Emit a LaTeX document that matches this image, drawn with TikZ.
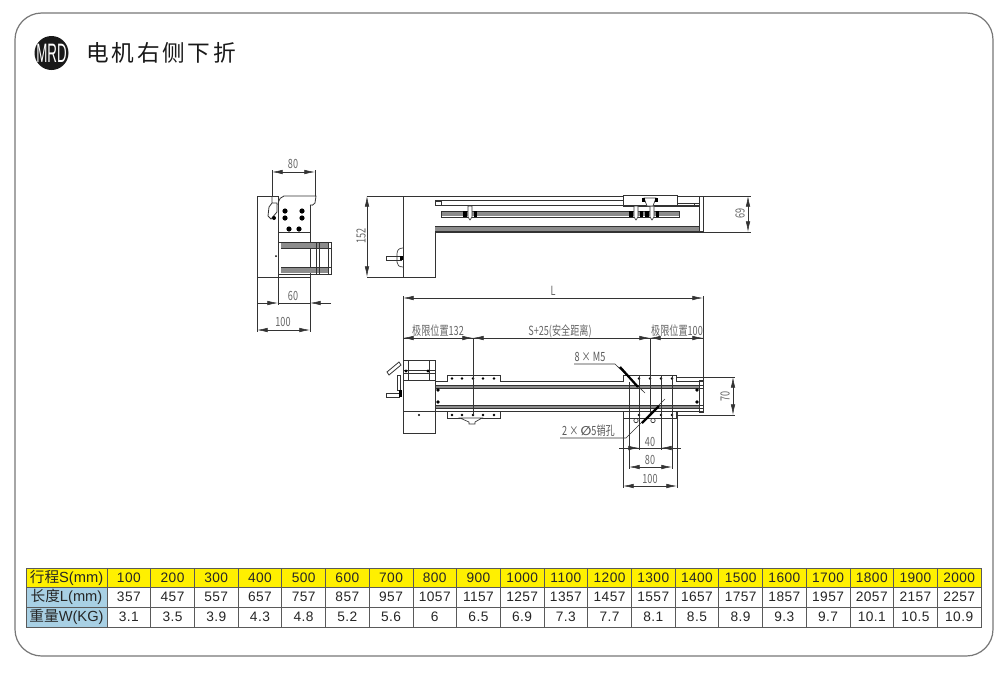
\documentclass[tikz,border=0pt]{standalone}
\usepackage{fontspec}
\setmainfont{Liberation Sans}
\newfontfamily\cjkfont{Noto Sans CJK SC}
\newfontfamily\titlefont[LetterSpace=12]{Noto Sans CJK SC}
\newfontfamily\dimfont[FakeStretch=.72]{Noto Sans CJK SC}
\newfontfamily\symfont{DejaVu Sans}
\newfontfamily\logofont[FakeStretch=.5]{Liberation Sans}
\newfontfamily\cellfont[LetterSpace=3]{Liberation Sans}
\usetikzlibrary{arrows.meta}
\definecolor{inkgray}{HTML}{333333}
\definecolor{framegray}{HTML}{777777}
\definecolor{railgray}{HTML}{8C8C8C}
\definecolor{gridgray}{HTML}{5A5A5A}
\definecolor{headyellow}{HTML}{FFF000}
\definecolor{headblue}{HTML}{A8D0E4}
\tikzset{
  part/.style={draw=inkgray, line width=.6pt},
  hair/.style={draw=inkgray, line width=.5pt},
  dimline/.style={draw=inkgray, line width=.45pt},
  dimboth/.style={dimline, {Latex[length=8pt,width=3.4pt]}-{Latex[length=8pt,width=3.4pt]}},
  dimend/.style={dimline, -{Latex[length=8pt,width=3.4pt]}},
  dimtext/.style={font=\dimfont\fontsize{9.5}{10}\selectfont, text=black!60, inner sep=0pt},
  leadtext/.style={font=\dimfont\fontsize{9.5}{10}\selectfont, text=black!65, inner sep=0pt},
  celltext/.style={font=\cellfont\fontsize{10.3}{11}\selectfont, text=black!85, inner sep=0pt},
  headtext/.style={font=\fontsize{11}{12}\selectfont, text=black!85, inner sep=0pt},
}
\begin{document}
\begin{tikzpicture}[x=.75pt, y=-.75pt]
  \useasboundingbox (0,0) rectangle (1000,672);
  \fill[white] (0,0) rectangle (1000,672);
  \draw[framegray, line width=.9pt, rounded corners=20pt] (15,13) rectangle (993,656);

  % title
  \fill[black!90] (51.5,53) circle (17);
  \node[text=white, inner sep=0pt, font=\logofont\fontsize{20}{21}\selectfont] (logo) at (51.5,53) {MRD};
  \node[anchor=west, inner sep=0pt, font=\titlefont\fontsize{17}{18}\selectfont, text=black!90] (title) at (86,53) {电机右侧下折};

  % end view
  \draw[part] (257,196) rectangle (278,277);
  \draw[part] (278,205) -- (278,277) -- (310,277) -- (310,205);
  \draw[part] (278,205) .. controls (279,198) and (281,197) .. (284,196) -- (306,196) -- (310,196) -- (316,196) -- (315,203) .. controls (314,205) and (311,206) .. (310,205);
  \draw[hair] (278,232) -- (310,232);
  \draw[part] (278,242) rectangle (331,274);
  \fill[railgray] (281,243) rectangle (329,248);
  \fill[railgray] (281,267) rectangle (329,273);
  \draw[hair] (281,248) -- (331,248) (281,267) -- (331,267);
  \foreach \x in {316,319,328}
    \draw[hair] (\x,242) -- (\x,274);
  \foreach \x/\y in {285/211,302/211,285/218,302/218,289/229,299/229}
    \fill[black] (\x,\y) circle (2.6);
  \draw[part] (272,196) -- (272,203) -- (269,207) -- (268,216) (272,203) -- (277,203) -- (277,212) -- (271,219) -- (268,216);
  \fill[black] (274,218) circle (2);
  \fill[black] (276,256) circle (1);

  \draw[dimline] (272,196) -- (272,170) (315,196) -- (315,170);
  \draw[dimboth] (272,172) -- (315,172);
  \node[dimtext] (endtop) at (293,164) {80};
  \draw[dimline] (278,277) -- (278,305) (310,277) -- (310,332) (257,277) -- (257,332);
  \draw[dimend] (258,303) -- (278,303);
  \draw[dimend] (331,303) -- (310,303);
  \draw[dimline] (278,303) -- (310,303);
  \node[dimtext] (endmid) at (293,296) {60};
  \draw[dimboth] (257,330) -- (310,330);
  \node[dimtext] (endlow) at (283,322) {100};

  % side view
  \draw[part] (403,196) rectangle (435,277);
  \draw[dimline] (367,196) -- (403,196) (367,277) -- (403,277);
  \draw[dimboth] (367,196) -- (367,277);
  \node[dimtext, rotate=90] (sideh) at (361,236) {152};
  \draw[hair] (386,256) rectangle (401,260);
  \draw[hair] (403,248) .. controls (399,248) and (397,250) .. (397,254) -- (397,262) .. controls (397,265) and (399,267) .. (403,267);
  \fill[black] (400,256) rectangle (403,260);

  \fill[white] (435,196) rectangle (703,232);
  \draw[inkgray, line width=1.3pt] (435,196.5) -- (623,196.5);
  \draw[hair] (435,200) -- (623,200) (435,205.5) -- (699,205.5);
  \fill[railgray] (441,212) rectangle (679,216);
  \draw[hair] (441,211) rectangle (679,217);
  \fill[railgray] (435,226) rectangle (699,231);
  \draw[inkgray, line width=1pt] (435,232) -- (703,232);
  \draw[hair] (435,226) -- (699,226);
  \draw[hair] (435,201) rectangle (441,205.5);
  \draw[part] (623,195) rectangle (677,206);
  \draw[part] (677,196) rectangle (699,206);
  \draw[hair] (677,203) -- (699,203) (694,203) -- (694,206);
  \draw[part] (699,196) rectangle (703,232);
  \foreach \x in {470,636,652} {
    \fill[black] (\x-7,211) rectangle (\x-3.5,217);
    \fill[black] (\x+3.5,211) rectangle (\x+7,217);
    \draw[hair, fill=white] (\x-2,206) -- (\x+2,206) -- (\x+2,217) -- (\x,220) -- (\x-2,217) -- cycle;
  }
  \draw[hair, fill=white] (644,198) -- (656,198) -- (653,206) -- (647,206) -- cycle;
  \fill[black] (642,198) rectangle (645,202);
  \fill[black] (655,198) rectangle (658,202);

  \draw[dimline] (703,196) -- (751,196) (703,232) -- (751,232);
  \draw[dimboth] (748,196) -- (748,232);
  \node[dimtext, rotate=90] (sidew) at (740,213) {69};

  % top view
  \draw[part] (403,380) rectangle (435,433);
  \draw[part] (403,360) rectangle (435,380);
  \draw[hair] (403,411) -- (435,411);
  \draw[hair] (403,370) -- (435,370) (403,373) -- (435,373) (408,360) -- (408,380) (429,360) -- (429,380);
  \fill[black] (419,415) circle (1.2);
  \fill[black] (406,371) circle (1.6);
  \fill[black] (428,371) circle (1.6);
  \draw[part] (387,372) -- (399,362) -- (401,365) -- (389,375) -- cycle;
  \draw[part] (397,375) rectangle (400,390);
  \draw[part] (386,393) rectangle (399,397);
  \fill[black] (399,390) rectangle (402,397);

  \draw[inkgray, line width=1.1pt] (435,381.5) -- (703,381.5) (435,411.5) -- (703,411.5);
  \fill[railgray] (436,385) rectangle (699,388);
  \fill[railgray] (436,405) rectangle (699,408);
  \draw[hair] (435,385) -- (703,385) (435,388) -- (703,388) (435,405) -- (703,405) (435,408) -- (703,408);
  \draw[part] (699,380) rectangle (703,412);
  \foreach \x in {438,697} {
    \fill[black] (\x,390) circle (1.8);
    \fill[black] (\x,402) circle (1.8);
  }
  \foreach \x in {447,623} {
    \draw[part, fill=white] (\x,382) -- (\x,375) -- (\x+53,375) -- (\x+53,382);
    \draw[part, fill=white] (\x,412) -- (\x,418) -- (\x+53,418) -- (\x+53,412);
  }
  \foreach \x in {452,462,473,483,494,639,650,661,672} {
    \fill[black] (\x,378.5) circle (1.3);
    \fill[black] (\x,415) circle (1.3);
  }
  \draw[hair, fill=white] (460,418) -- (482,418) -- (475,422) -- (475,424) -- (469,424) -- (469,422) -- cycle;
  \foreach \x in {636,653}
    \draw[hair] (\x,420.5) circle (2.2);

  % overall dimensions
  \draw[dimline] (403,296) -- (403,380) (703,296) -- (703,380);
  \draw[dimboth] (403,298) -- (703,298);
  \node[dimtext] (lenlabel) at (553,291) {L};
  \draw[dimline] (473,338) -- (473,415) (650,338) -- (650,415);
  \draw[dimline] (403,338) -- (703,338);
  \draw[dimend] (414,338) -- (403,338);
  \draw[dimend] (463,338) -- (473,338);
  \draw[dimend] (484,338) -- (473,338);
  \draw[dimend] (639,338) -- (650,338);
  \draw[dimend] (661,338) -- (650,338);
  \draw[dimend] (692,338) -- (703,338);
  \node[dimtext] (limleft) at (438,331) {极限位置132};
  \node[dimtext] (safety) at (560,331) {S+25(安全距离)};
  \node[dimtext] (limright) at (677,331) {极限位置100};

  \draw[dimline] (677,377) -- (735,377) (677,415) -- (735,415);
  \draw[dimboth] (733,377) -- (733,415);
  \node[dimtext, rotate=90] (topw) at (725,396) {70};

  \draw[dimline] (639,375) -- (639,450) (661,375) -- (661,450)
    (629,382) -- (629,469) (672,375) -- (672,469)
    (623,412) -- (623,488) (677,412) -- (677,488);
  \draw[dimline] (619,448) -- (681,448);
  \draw[dimend] (628,448) -- (639,448);
  \draw[dimend] (672,448) -- (661,448);
  \node[dimtext] (hole40) at (650,442) {40};
  \draw[dimboth] (629,467) -- (672,467);
  \node[dimtext] (hole80) at (650,460) {80};
  \draw[dimboth] (623,486) -- (677,486);
  \node[dimtext] (hole100) at (650,479) {100};

  \draw[dimline] (574,364) -- (615,364) -- (645,393);
  \draw[black, line width=1.7pt] (620,367) -- (638,387);
  \node[leadtext] (mfive) at (590,357) {8\,×\,M5};
  \draw[dimline] (560,438) -- (626,438) -- (665,399);
  \draw[black, line width=1.7pt] (642,423) -- (659,406);
  \node[leadtext] (pinhole) at (588.5,431) {2\,×\,{\symfont\bfseries ∅}5销孔};

  % table
  \fill[headyellow] (26,568) rectangle (981,587);
  \fill[headblue] (26,587) rectangle (107,627);
  \draw[gridgray, line width=.6pt] (26,568) rectangle (981,627);
  \foreach \y in {587,607}
    \draw[gridgray, line width=.6pt] (26,\y) -- (981,\y);
  \node[headtext] (rowS) at (66.5,577.5) {{\cjkfont 行程}S(mm)};
  \node[headtext] (rowL) at (66.5,597) {{\cjkfont 长度}L(mm)};
  \node[headtext] (rowW) at (66.5,617) {{\cjkfont 重量}W(KG)};
  \foreach \st/\len/\wt [count=\i from 0] in {100/357/3.1,200/457/3.5,300/557/3.9,400/657/4.3,500/757/4.8,600/857/5.2,700/957/5.6,800/1057/6,900/1157/6.5,1000/1257/6.9,1100/1357/7.3,1200/1457/7.7,1300/1557/8.1,1400/1657/8.5,1500/1757/8.9,1600/1857/9.3,1700/1957/9.7,1800/2057/10.1,1900/2157/10.5,2000/2257/10.9} {
    \pgfmathsetmacro\cx{107+43.7*\i}
    \draw[gridgray, line width=.6pt] (\cx,568) -- (\cx,627);
    \node[celltext] (st\i) at (\cx+21.85,577.5) {\st};
    \node[celltext] (len\i) at (\cx+21.85,597) {\len};
    \node[celltext] (wt\i) at (\cx+21.85,617) {\wt};
  }
\end{tikzpicture}
\end{document}
